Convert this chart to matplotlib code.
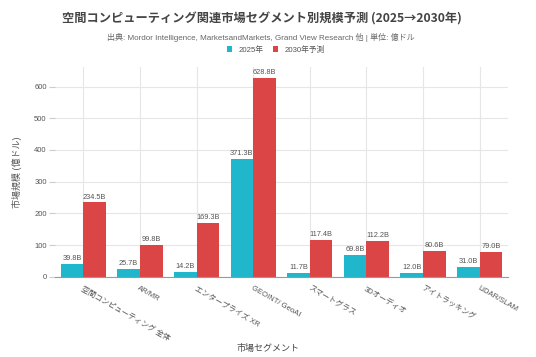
import matplotlib
matplotlib.use('Agg')
import matplotlib.pyplot as plt
import numpy as np

plt.rcParams['font.family'] = ['Liberation Sans', 'Noto Sans CJK JP']

segments = ["空間コンピューティング 全体", "AR/MR", "エンタープライズ XR", "GEOINT/ GeoAI",
            "スマートグラス", "3Dオーディオ", "アイトラッキング", "LiDAR/SLAM"]
val_2025 = [39.8, 25.7, 14.2, 371.3, 11.7, 69.8, 12.0, 31.0]
val_2030 = [234.5, 99.8, 169.3, 628.8, 117.4, 112.2, 80.6, 79.0]
series_names = ["2025年", "2030年予測"]

c25 = "#20b6cc"
c30 = "#dc4545"
txt = "#555555"

fig = plt.figure(figsize=(5.36, 3.57), dpi=100)
ax = fig.add_axes([55/536, 80.3/357, 453/536, 209.7/357])

x = np.arange(len(segments))
w = 0.4
b1 = ax.bar(x - w/2, val_2025, w, color=c25, zorder=2)
b2 = ax.bar(x + w/2, val_2030, w, color=c30, zorder=2)

for bars, vals in ((b1, val_2025), (b2, val_2030)):
    for r, v in zip(bars, vals):
        ax.text(r.get_x() + r.get_width()/2, v + 6, f"{v:.1f}B", ha='center', va='bottom',
                fontsize=5.3, color=txt)

ax.set_xlim(-0.5, len(segments) - 0.5)
ax.set_ylim(0, 662)
ax.set_yticks([0, 100, 200, 300, 400, 500, 600])
ax.set_xticks(x)
ax.set_xticklabels(segments, rotation=-30, ha='left', va='top', rotation_mode='anchor',
                   fontsize=5.5, color=txt)
ax.tick_params(axis='y', labelsize=5.5, labelcolor=txt, length=4, color='#cccccc', pad=2)
ax.tick_params(axis='x', length=0, pad=6)
ax.grid(True, color='#e6e6e6', linewidth=0.8, zorder=0)
for s in ['top', 'right', 'left']:
    ax.spines[s].set_visible(False)
ax.spines['bottom'].set_color('#999999')
ax.spines['bottom'].set_linewidth(0.8)

ax.set_ylabel("市場規模 (億ドル)", fontsize=6.5, color=txt)
ax.yaxis.set_label_coords((22 - 55) / 453, 0.5)
fig.text(0.5, 1 - 348/357, "市場セグメント", ha='center', va='center', fontsize=6.5, color='#444444')

fig.text(262/536, 1 - 19/357, "空間コンピューティング関連市場セグメント別規模予測 (2025→2030年)",
         ha='center', va='center', fontsize=8.8, fontweight='bold', color='#444444',
         family=['Noto Sans CJK JP'])
fig.text(261/536, 1 - 37/357, "出典: Mordor Intelligence, MarketsandMarkets, Grand View Research 他 | 単位: 億ドル",
         ha='center', va='center', fontsize=5.8, color='#666666')
leg = fig.legend([b1, b2], series_names, loc='center', bbox_to_anchor=(276/536, 1 - 49.5/357),
                 ncol=2, frameon=False, fontsize=5.6, handlelength=0.7, handleheight=0.7,
                 columnspacing=1.2, handletextpad=0.8)
for t in leg.get_texts():
    t.set_color(txt)

fig.savefig("out.png", dpi=100)
